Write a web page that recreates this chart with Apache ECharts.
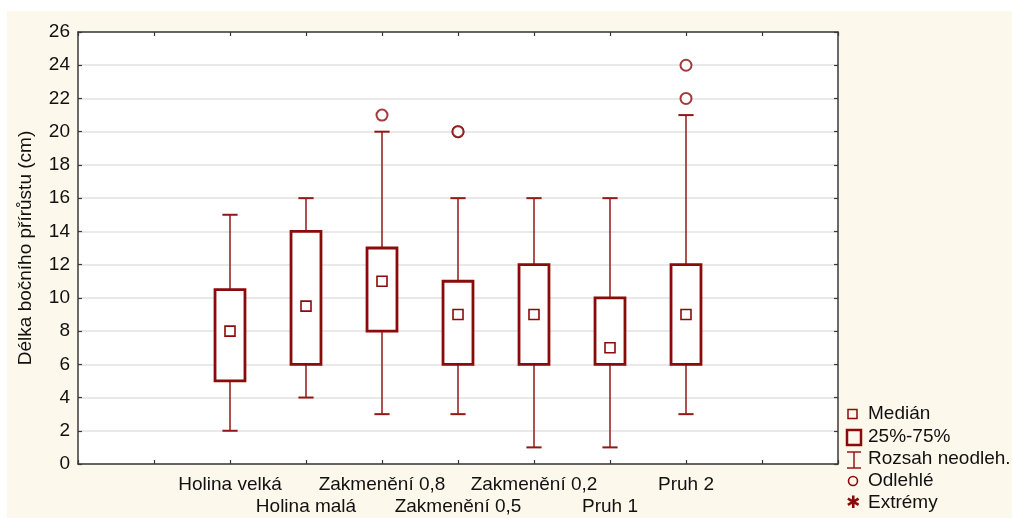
<!DOCTYPE html>
<html>
<head>
<meta charset="utf-8">
<script src="https://cdn.jsdelivr.net/npm/echarts@6/dist/echarts.min.js"></script>
<style>
  html, body { margin: 0; padding: 0; background: #ffffff; }
  #chart { width: 1012px; height: 518px; }
</style>
</head>
<body>
<div id="chart"></div>
<script>
// Group names and their positions on the x scale (slots 0..10, groups at 2..8)
const categories = ['Holina velká', 'Holina malá', 'Zakmenění 0,8', 'Zakmenění 0,5', 'Zakmenění 0,2', 'Pruh 1', 'Pruh 2'];
const positions = [2, 3, 4, 5, 6, 7, 8];

// Box statistics per group
const whiskerLow  = [2, 4, 3, 3, 1, 1, 3];
const q1          = [5, 6, 8, 6, 6, 6, 6];
const median      = [8, 9.5, 11, 9, 9, 7, 9];
const q3          = [10.5, 14, 13, 11, 12, 10, 12];
const whiskerHigh = [15, 16, 20, 16, 16, 16, 21];

// Outliers: [group index, value]
const outliers = [[2, 21], [3, 20], [3, 20], [6, 22], [6, 24]];

// Y axis ticks
const yMin = 0, yMax = 26, yStep = 2;

// Legend entries
const legendLabels = ['Medián', '25%-75%', 'Rozsah neodleh.', 'Odlehlé', 'Extrémy'];

const RED = '#8b0a0a';
const WHISKER = '#921818';
const AXIS = '#3a3a3a';
const FONT = '"Liberation Sans", Arial, sans-serif';
const FS = 19;

const boxData = categories.map((c, i) => [positions[i], whiskerLow[i], q1[i], median[i], q3[i], whiskerHigh[i]]);
const outlierData = outliers.map(([g, v]) => [positions[g], v]);

const labelAt = {};
categories.forEach((c, i) => { labelAt[positions[i]] = (i % 2 === 1 ? '\n' : '') + c; });

function renderBox(params, api) {
  const x = api.value(0);
  const pLow = api.coord([x, api.value(1)]);
  const pQ1 = api.coord([x, api.value(2)]);
  const pMed = api.coord([x, api.value(3)]);
  const pQ3 = api.coord([x, api.value(4)]);
  const pHigh = api.coord([x, api.value(5)]);
  const slot = api.size([1, 0])[0];
  const halfBox = slot * 0.197;
  const halfCap = slot * 0.1;
  const cx = pLow[0];
  const med = 10;
  const wStyle = { stroke: WHISKER, lineWidth: 1.5 };
  return {
    type: 'group',
    children: [
      { type: 'line', shape: { x1: cx, y1: pLow[1], x2: cx, y2: pQ1[1] }, style: wStyle },
      { type: 'line', shape: { x1: cx, y1: pQ3[1], x2: cx, y2: pHigh[1] }, style: wStyle },
      { type: 'line', shape: { x1: cx - halfCap, y1: pLow[1], x2: cx + halfCap, y2: pLow[1] }, style: { stroke: WHISKER, lineWidth: 2 } },
      { type: 'line', shape: { x1: cx - halfCap, y1: pHigh[1], x2: cx + halfCap, y2: pHigh[1] }, style: { stroke: WHISKER, lineWidth: 2 } },
      { type: 'rect', shape: { x: cx - halfBox, y: pQ3[1], width: halfBox * 2, height: pQ1[1] - pQ3[1] },
        style: { fill: '#ffffff', stroke: RED, lineWidth: 2.8 } },
      { type: 'rect', shape: { x: cx - med / 2, y: pMed[1] - med / 2, width: med, height: med },
        style: { fill: '#ffffff', stroke: RED, lineWidth: 1.6 } }
    ]
  };
}

// Legend glyphs and texts drawn at the right margin
const legendX = 868;
const rowY = [414, 437, 459, 481, 503];
const legendGraphics = [
  { type: 'rect', shape: { x: 848, y: rowY[0] - 4.5, width: 9, height: 9 }, style: { fill: 'none', stroke: RED, lineWidth: 1.5 } },
  { type: 'rect', shape: { x: 847, y: rowY[1] - 7, width: 14, height: 15 }, style: { fill: 'none', stroke: RED, lineWidth: 2.5 } },
  { type: 'line', shape: { x1: 847, y1: rowY[2] - 7, x2: 861, y2: rowY[2] - 7 }, style: { stroke: WHISKER, lineWidth: 1.5 } },
  { type: 'line', shape: { x1: 854, y1: rowY[2] - 7, x2: 854, y2: rowY[2] + 9 }, style: { stroke: WHISKER, lineWidth: 1.5 } },
  { type: 'line', shape: { x1: 847, y1: rowY[2] + 9, x2: 861, y2: rowY[2] + 9 }, style: { stroke: WHISKER, lineWidth: 1.5 } },
  { type: 'circle', shape: { cx: 853, cy: rowY[3], r: 4.5 }, style: { fill: 'none', stroke: RED, lineWidth: 1.6 } },
  { type: 'text', style: { text: '✱', x: 853, y: rowY[4] + 1, font: 'bold 17px "DejaVu Sans"', fill: RED, textAlign: 'center', textVerticalAlign: 'middle' } }
].concat(legendLabels.map((t, i) => ({
  type: 'text',
  style: { text: t, x: legendX, y: rowY[i], font: FS + 'px ' + FONT, fill: '#111', textVerticalAlign: 'middle' }
})));

const chart = echarts.init(document.getElementById('chart'), null, { renderer: 'canvas' });
chart.setOption({
  animation: false,
  backgroundColor: '#ffffff',
  graphic: [
    { type: 'rect', z: -10, shape: { x: 7, y: 11, width: 1005, height: 507 }, style: { fill: '#fdf8ec' } },
    { type: 'rect', z: -9, shape: { x: 78, y: 32, width: 760, height: 432 }, style: { fill: '#ffffff' } }
  ].concat(legendGraphics),
  grid: { left: 78, top: 32, right: 174, bottom: 54, containLabel: false },
  xAxis: [
    {
      type: 'value', min: 0, max: 10, interval: 1, position: 'bottom',
      axisLine: { show: true, onZero: false, lineStyle: { color: AXIS, width: 1.5 } },
      axisTick: { show: true, inside: true, length: 4, lineStyle: { color: AXIS, width: 1.2 } },
      splitLine: { show: false },
      axisLabel: {
        show: true, margin: 10, lineHeight: 22, interval: 0,
        fontSize: FS, fontFamily: FONT, color: '#111',
        formatter: v => labelAt[v] || ''
      }
    },
    {
      type: 'value', min: 0, max: 10, interval: 1, position: 'top',
      axisLine: { show: true, onZero: false, lineStyle: { color: AXIS, width: 1.5 } },
      axisTick: { show: true, inside: true, length: 4, lineStyle: { color: AXIS, width: 1.2 } },
      splitLine: { show: false }, axisLabel: { show: false }
    }
  ],
  yAxis: [
    {
      type: 'value', min: yMin, max: yMax, interval: yStep, position: 'left',
      name: 'Délka bočního přírůstu (cm)', nameLocation: 'middle', nameGap: 43,
      nameTextStyle: { fontSize: FS, fontFamily: FONT, color: '#111' },
      axisLine: { show: true, onZero: false, lineStyle: { color: AXIS, width: 1.5 } },
      axisTick: { show: true, inside: true, length: 4, lineStyle: { color: AXIS, width: 1.2 } },
      splitLine: { show: true, lineStyle: { color: '#e2e2e2', width: 1.5 } },
      axisLabel: { margin: 8, fontSize: FS, fontFamily: FONT, color: '#111' }
    },
    {
      type: 'value', min: yMin, max: yMax, interval: yStep, position: 'right',
      axisLine: { show: true, onZero: false, lineStyle: { color: AXIS, width: 1.5 } },
      axisTick: { show: true, inside: true, length: 4, lineStyle: { color: AXIS, width: 1.2 } },
      splitLine: { show: false }, axisLabel: { show: false }
    }
  ],
  series: [
    {
      type: 'custom', name: 'box', xAxisIndex: 0, yAxisIndex: 0,
      renderItem: renderBox, data: boxData, encode: { x: 0, y: [1, 2, 3, 4, 5] }
    },
    {
      type: 'scatter', name: 'Odlehlé', xAxisIndex: 0, yAxisIndex: 0,
      symbol: 'emptyCircle', symbolSize: 11, data: outlierData,
      itemStyle: { color: '#8b0a0a', borderWidth: 2 }
    }
  ]
});
</script>
</body>
</html>
